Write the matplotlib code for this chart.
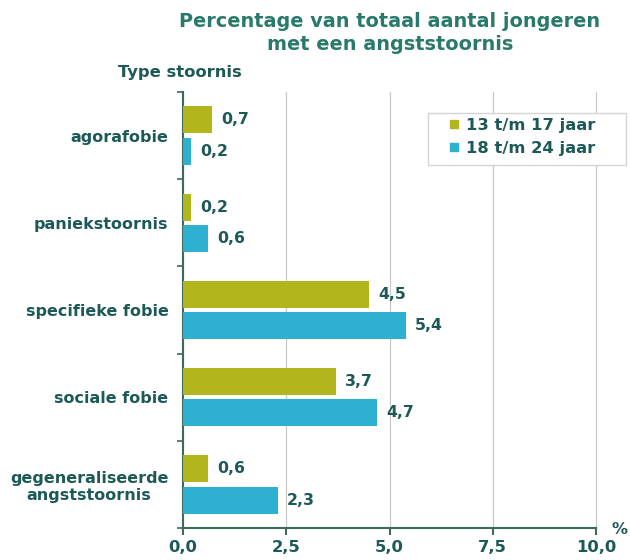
import numpy as np
import matplotlib.pyplot as plt
from matplotlib.ticker import FixedLocator
from matplotlib.lines import Line2D
from matplotlib.patches import Rectangle

# Data
categories = ['agorafobie', 'paniekstoornis', 'specifieke fobie', 'sociale fobie',
              'gegeneraliseerde\nangststoornis']
young = [0.7, 0.2, 4.5, 3.7, 0.6]     # 13 t/m 17 jaar
older = [0.2, 0.6, 5.4, 4.7, 2.3]     # 18 t/m 24 jaar
series_labels = ['13 t/m 17 jaar', '18 t/m 24 jaar']
xticks = [0.0, 2.5, 5.0, 7.5, 10.0]

OLIVE = '#b3b51c'
BLUE = '#2eb0d0'
TEXT = '#1d5a57'
TITLE = '#2a7a6c'
AXIS = '#3f6a5a'

plt.rcParams['font.family'] = 'DejaVu Sans'
plt.rcParams['font.weight'] = 'bold'

W, H = 630, 560
fig = plt.figure(figsize=(6.3, 5.6), dpi=100)
ax = fig.add_axes([183 / W, (H - 528) / H, 413 / W, 436 / H])

y = np.arange(len(categories))
h = 0.31
ax.barh(y - 0.18, young, height=h, color=OLIVE, zorder=3)
ax.barh(y + 0.18, older, height=h, color=BLUE, zorder=3)

def fmt(v):
    return f'{v:.1f}'.replace('.', ',')

for yi, v in zip(y, young):
    ax.text(v + 0.22, yi - 0.18, fmt(v), va='center', ha='left', color=TEXT,
            fontsize=11.3, fontweight='bold')
for yi, v in zip(y, older):
    ax.text(v + 0.22, yi + 0.18, fmt(v), va='center', ha='left', color=TEXT,
            fontsize=11.3, fontweight='bold')

ax.set_xlim(0, 10)
ax.set_ylim(len(categories) - 0.5, -0.5)

ax.set_xticks(xticks)
ax.set_xticklabels([fmt(t) for t in xticks], color=TEXT, fontsize=11.8, fontweight='bold')
ax.set_yticks(y)
ax.set_yticklabels(categories, color=TEXT, fontsize=11.5, fontweight='bold',
                   multialignment='center')
ax.tick_params(axis='y', length=0, pad=10.5)
ax.yaxis.set_minor_locator(FixedLocator(np.arange(-0.5, len(categories), 1.0)))
ax.tick_params(axis='y', which='minor', length=4, color=AXIS, width=1.2)
ax.tick_params(axis='x', length=5, color=AXIS, width=1.5, pad=3.5)

ax.grid(axis='x', color='#c8c8c8', linewidth=0.9, zorder=0)
for gl in ax.get_xgridlines():
    gl.set_clip_on(False)
for s in ['top', 'right']:
    ax.spines[s].set_visible(False)
ax.spines['left'].set_color(AXIS)
ax.spines['bottom'].set_color(AXIS)
ax.spines['left'].set_linewidth(1.5)
ax.spines['bottom'].set_linewidth(1.5)

# legend: wide light frame with small square markers
fig.patches.append(Rectangle((428 / W, (H - 165) / H), 198 / W, 52 / H,
                             transform=fig.transFigure, facecolor='white',
                             edgecolor='#d4d4d4', linewidth=1.0, zorder=5))
handles = [Line2D([], [], linestyle='none', marker='s', markersize=5.5,
                  color=c) for c in (OLIVE, BLUE)]
leg = fig.legend(handles, series_labels, loc='upper left',
                 bbox_to_anchor=(446 / W, (H - 118) / H), frameon=False,
                 fontsize=11.8, handlelength=1.0, handletextpad=0.25,
                 borderpad=0, borderaxespad=0, labelspacing=0.5)
leg.set_zorder(6)
for t in leg.get_texts():
    t.set_color(TEXT)
    t.set_fontweight('bold')

fig.text(0.619, 0.978, 'Percentage van totaal aantal jongeren\nmet een angststoornis',
         ha='center', va='top', color=TITLE, fontsize=13.9, fontweight='bold',
         linespacing=1.25)
fig.text(118 / W, 1 - 73 / H, 'Type stoornis', ha='left', va='center',
         color=TEXT, fontsize=11.8, fontweight='bold')
fig.text(620 / W, 1 - 530 / H, '%', ha='center', va='center', color=TEXT,
         fontsize=11.5, fontweight='bold')

fig.savefig('out.png', dpi=100)
